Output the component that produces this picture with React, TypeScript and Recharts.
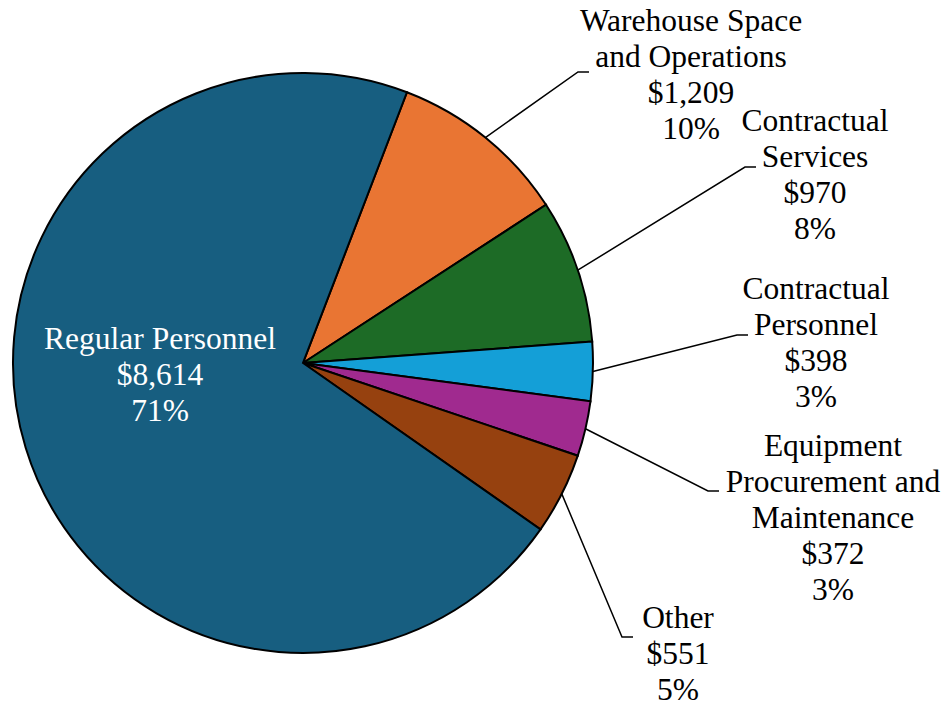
import React from "react";
import { PieChart, Pie, Cell } from "recharts";

const categories = [
  "Warehouse Space and Operations",
  "Contractual Services",
  "Contractual Personnel",
  "Equipment Procurement and Maintenance",
  "Other",
  "Regular Personnel",
];
const labelLines = [
  ["Warehouse Space", "and Operations"],
  ["Contractual", "Services"],
  ["Contractual", "Personnel"],
  ["Equipment", "Procurement and", "Maintenance"],
  ["Other"],
  ["Regular Personnel"],
];
const amounts = [1209, 970, 398, 372, 551, 8614];
const colors = ["#E97533", "#1D6B26", "#149FD7", "#A02A8F", "#96410F", "#175E80"];

// label layout, relative to pie centre: text centre (first line) and leader elbow
const labelLayout = [
  { tx: 388, ty: -343, ex: 275, ey: -291, line: true },
  { tx: 512, ty: -243, ex: 442, ey: -196, line: true },
  { tx: 513, ty: -75, ex: 434, ey: -28, line: true },
  { tx: 530, ty: 82, ex: 405, ey: 128, line: true },
  { tx: 375, ty: 254, ex: 319, ey: 274, line: true },
  { tx: -143, ty: -25, ex: 0, ey: 0, line: false },
];

const total = amounts.reduce((a, b) => a + b, 0);
const data = categories.map((name, i) => ({ name, value: amounts[i] }));

const FONT = "Liberation Serif";
const FS = 31.5;
const LH = 36.2;

const fmt = (v: number) => "$" + v.toLocaleString("en-US");

const renderLabel = (props: any) => {
  const { cx, cy, midAngle, outerRadius, index } = props;
  const lay = labelLayout[index];
  const RAD = Math.PI / 180;
  const sx = cx + outerRadius * Math.cos(-midAngle * RAD);
  const sy = cy + outerRadius * Math.sin(-midAngle * RAD);
  const ex = cx + lay.ex;
  const ey = cy + lay.ey;
  const lines = [
    ...labelLines[index],
    fmt(amounts[index]),
    Math.round((amounts[index] / total) * 100) + "%",
  ];
  const tx = cx + lay.tx;
  const ty = cy + lay.ty;
  const fill = lay.line ? "#000" : "#fff";
  return (
    <g key={"lbl" + index}>
      {lay.line && (
        <polyline
          points={`${sx},${sy} ${ex},${ey} ${ex + 11},${ey}`}
          fill="none"
          stroke="#000"
          strokeWidth={1.5}
        />
      )}
      {lines.map((t, k) => (
        <text
          key={k}
          x={tx}
          y={ty + k * LH}
          textAnchor="middle"
          dominantBaseline="central"
          style={{ fontFamily: FONT, fontSize: FS, fill }}
        >
          {t}
        </text>
      ))}
    </g>
  );
};

export default function App() {
  return (
    <div style={{ position: "absolute", left: 0, top: 0, width: 950, height: 704, background: "#fff", fontFamily: FONT }}>
      <PieChart width={950} height={704} margin={{ top: 0, right: 0, bottom: 0, left: 0 }}>
        <Pie
          data={data}
          dataKey="value"
          nameKey="name"
          cx={303}
          cy={363}
          outerRadius={290}
          startAngle={69}
          endAngle={-291}
          stroke="#000"
          strokeWidth={2}
          label={renderLabel}
          labelLine={false}
          isAnimationActive={false}
        >
          {data.map((d, i) => (
            <Cell key={d.name} fill={colors[i]} />
          ))}
        </Pie>
      </PieChart>
    </div>
  );
}
